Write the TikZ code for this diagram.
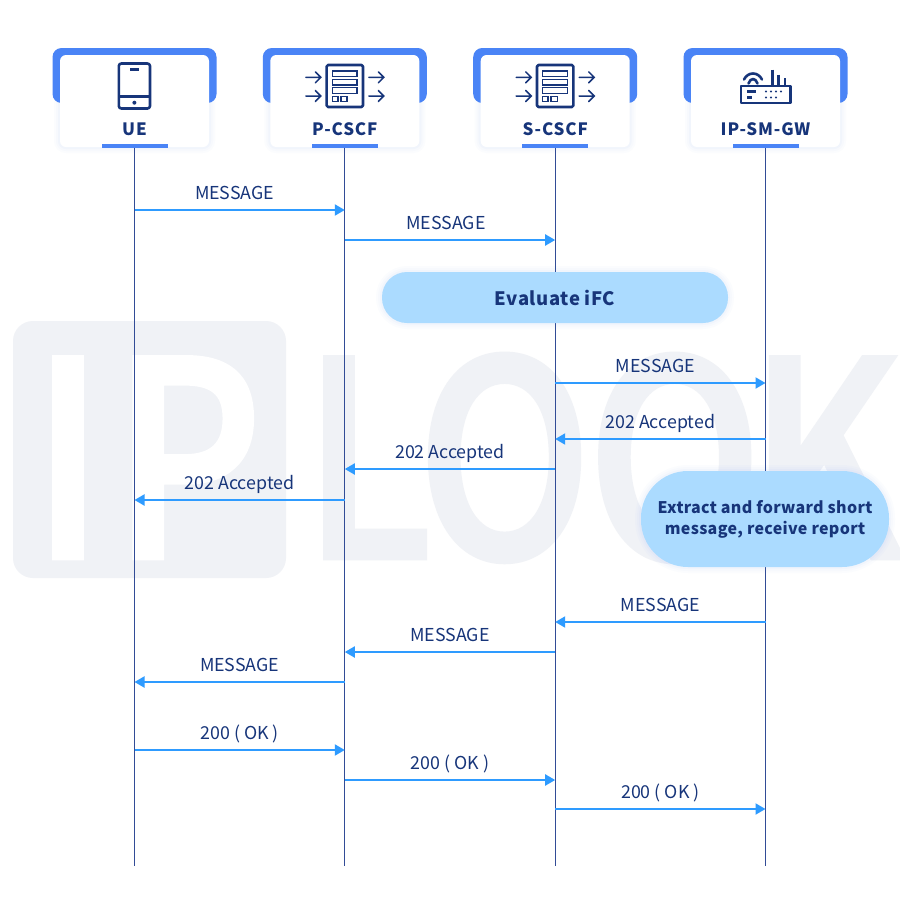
\documentclass[tikz,border=0pt]{standalone}
\usepackage{fontspec}
\setmainfont{Noto Sans CJK SC}
\newfontfamily\markfont[FakeStretch=0.85,FakeBold=1.8]{Noto Sans CJK SC Medium}
\usepackage{xcolor}
\definecolor{navycolor}{RGB}{23, 53, 122}
\definecolor{lifecolor}{RGB}{50, 76, 150}
\definecolor{msgcolor}{RGB}{46, 155, 255}
\definecolor{bandcolor}{RGB}{74, 132, 246}
\definecolor{pillcolor}{RGB}{171, 219, 255}
\definecolor{markcolor}{RGB}{240, 242, 246}
\usetikzlibrary{arrows.meta, calc}
\tikzset{
  softshadow/.style={
    preaction={draw=bandcolor,draw opacity=.02,line width=12pt},
    preaction={draw=bandcolor,draw opacity=.02,line width=8pt},
    preaction={draw=bandcolor,draw opacity=.03,line width=4pt}},
  cardbox/.style={fill=white,rounded corners=6pt,minimum width=149pt,minimum height=92pt,
    inner sep=0pt,softshadow},
  bandbox/.style={fill=bandcolor,rounded corners=9pt,minimum width=164pt,minimum height=55pt,inner sep=0pt},
  barbox/.style={fill=bandcolor,minimum width=66pt,minimum height=3.5pt,inner sep=0pt},
  devname/.style={text=navycolor,font=\fontsize{17}{18}\selectfont\bfseries\addfontfeatures{LetterSpace=5},inner sep=0pt},
  pill/.style={fill=pillcolor,text=navycolor,font=\fontsize{16}{21}\selectfont\bfseries\addfontfeatures{LetterSpace=2},
    align=center,inner sep=0pt,softshadow},
  life/.style={draw=lifecolor,line width=1pt},
  msg/.style={draw=msgcolor,line width=2pt,-{Triangle[length=10pt,width=11pt]}},
  msglabel/.style={text=navycolor,font=\fontsize{17.8}{18}\selectfont,inner sep=0pt,
    text height=12pt,text depth=3pt,above=7pt},
  icon/.style={draw=navycolor,line width=2.6pt,line join=round},
  iconthin/.style={draw=navycolor,line width=1.5pt},
  marktext/.style={font=\fontsize{272}{272}\markfont,inner sep=0pt,anchor=base west},
}
\begin{document}
\begin{tikzpicture}[x=1pt,y=-1pt]
  \useasboundingbox[fill=white] (0,0) rectangle (900,900);

  % watermark
  \node[fill=markcolor,rounded corners=20pt,minimum width=273pt,minimum height=257pt,inner sep=0pt]
    (markbox) at (149.5,449.5) {};
  \node[marktext,text=white] (markip) at (32,558) {I\kern9pt P};
  \node[marktext,text=markcolor] (marklook) at (303,558) {L\kern-15pt O\kern-4pt O\kern-13pt K};

  % lifelines and cards
  \foreach \x/\n/\t in {134.5/ue/UE,344.8/pcscf/P-CSCF,555.2/scscf/S-CSCF,765.5/ipsmgw/IP-SM-GW} {
    \coordinate (\n-end) at (\x,866);
    \node[bandbox] (\n-band) at (\x,75.5) {};
    \node[cardbox] (\n) at (\x,101) {};
    \node[barbox] (\n-bar) at (\x,146) {};
    \node[devname] (\n-name) at (\x,129) {\t};
    \draw[life] (\n-bar.south) -- (\n-end);
  }

  % phone
  \draw[icon,rounded corners=2.5pt] (118.8,63.5) rectangle (150,108.5);
  \draw[icon] (118.8,96.7) -- (150,96.7);
  \draw[icon] (130,69.5) -- (139,69.5);
  \fill[navycolor] (134.4,102.7) circle (2pt);

  % gateways
  \foreach \x in {344.8,555.2} {
    \begin{scope}[xshift=\x pt]
      \draw[icon,rounded corners=1.5pt] (-18.2,65) rectangle (18.2,107);
      \foreach \y in {71,79.3,87.7}
        \draw[iconthin] (-12.5,\y) rectangle (12.2,\y+5.7);
      \draw[iconthin] (-12.5,96.7) rectangle (-7,101.7);
      \draw[iconthin] (-4,96.7) rectangle (2.3,101.7);
      \foreach \y in {77.3,96} {
        \draw[iconthin,line cap=round] (-39,\y) -- (-24,\y) (-29.5,\y-5.5) -- (-24,\y) -- (-29.5,\y+5.5);
        \draw[iconthin,line cap=round] (24,\y) -- (39,\y) (33.5,\y-5.5) -- (39,\y) -- (33.5,\y+5.5);
      }
    \end{scope}
  }

  % router
  \draw[icon] (741,86) rectangle (790.5,103);
  \draw[icon] (772.5,69.5) -- (772.5,86) (778.5,74.5) -- (778.5,86) (785,78) -- (785,86);
  \draw[icon,line cap=round] (744,79.5) .. controls (748,71.5) and (758,71.5) .. (762,79.5);
  \draw[icon,line cap=round] (748.5,83.5) .. controls (750.5,77.5) and (755.5,77.5) .. (757.5,83.5);
  \draw[icon] (747,91.5) -- (756,91.5) (747,97.5) -- (752,97.5);
  \foreach \x in {766,771,776,781} \fill[navycolor] (\x,91.5) circle (1.2pt);
  \foreach \x in {766,771,776} \fill[navycolor] (\x,97.5) circle (1.2pt);

  % messages
  \foreach \k/\y/\a/\b/\s/\t in {
      a/210/ue/pcscf/-5/MESSAGE, b/240/pcscf/scscf/-4/MESSAGE, c/383/scscf/ipsmgw/-5/MESSAGE,
      d/439/ipsmgw/scscf/0/202 Accepted, e/469/scscf/pcscf/0/202 Accepted, f/500/pcscf/ue/0/202 Accepted,
      g/622/ipsmgw/scscf/0/MESSAGE, h/652/scscf/pcscf/0/MESSAGE, i/682/pcscf/ue/0/MESSAGE,
      j/750/ue/pcscf/0/200 ( OK ), k/780/pcscf/scscf/0/200 ( OK ), l/809/scscf/ipsmgw/0/200 ( OK )} {
    \coordinate (row-\k) at (0,\y);
    \coordinate (\a-\k) at (\a |- row-\k);
    \coordinate (\b-\k) at (\b |- row-\k);
    \draw[msg] (\a-\k) -- node[msglabel,xshift=\s pt] (label-\k) {\t} (\b-\k);
  }

  % notes
  \node[pill,rounded corners=25pt,minimum width=346pt,minimum height=51pt] (evalifc) at (555,297.5)
    {\fontsize{18.5}{21}\selectfont\addfontfeatures{LetterSpace=3}Evaluate iFC};
  \node[pill,rounded corners=47pt,minimum width=248pt,minimum height=96pt] (extract) at (765,519)
    {Extract and forward short\\message, receive report};
\end{tikzpicture}
\end{document}
